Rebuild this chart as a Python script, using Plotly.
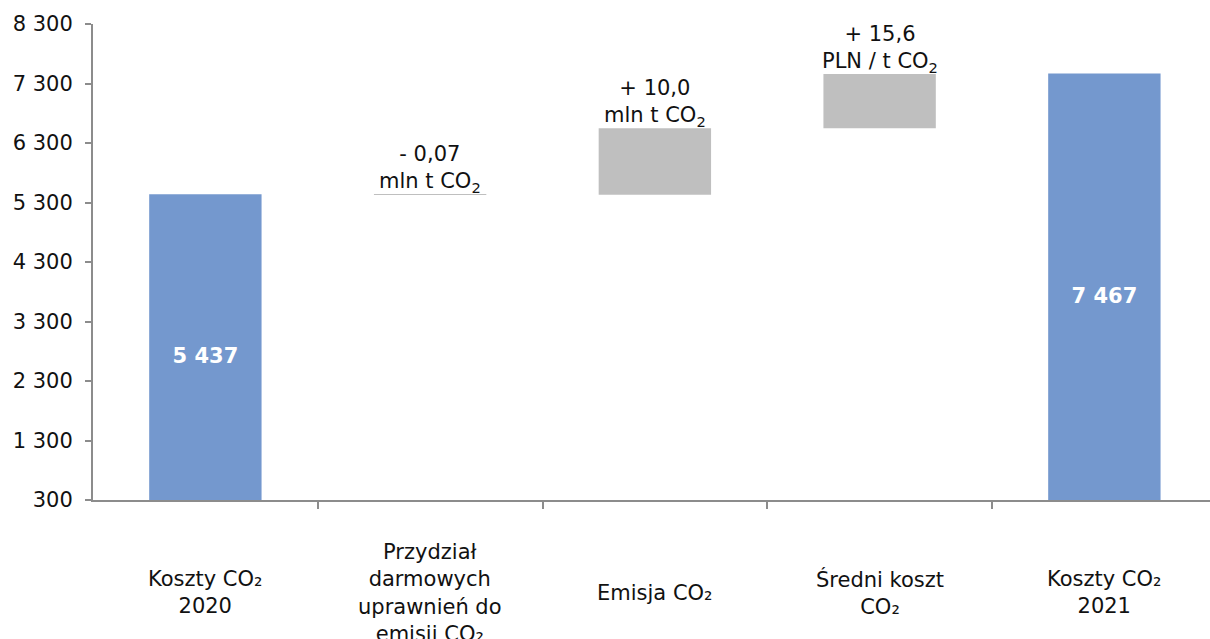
import plotly.graph_objects as go

# Waterfall of CO2 costs 2020 -> 2021
categories = [
    "Koszty CO₂<br>2020",
    "Przydział<br>darmowych<br>uprawnień do<br>emisji CO₂",
    "Emisja CO₂",
    "Średni koszt<br>CO₂",
    "Koszty CO₂<br>2021",
]
start_total = 5437
deltas = [-6, 1115, 915]          # free allocation, emission volume, average price
end_total = 7467
total_labels = ["5 437", "7 467"]
delta_labels = [
    "- 0,07<br>mln t CO<sub>2</sub>",
    "+ 10,0<br>mln t CO<sub>2</sub>",
    "+ 15,6<br>PLN / t CO<sub>2</sub>",
]
y_ticks = [300, 1300, 2300, 3300, 4300, 5300, 6300, 7300, 8300]
y_ticktext = ["300", "1 300", "2 300", "3 300", "4 300", "5 300", "6 300", "7 300", "8 300"]

FONT = "DejaVu Sans, Verdana, sans-serif"
FS = 21
BLUE = "#7498CE"
GREY = "#BFBFBF"
AXIS = "#8C8C8C"
INK = "#111111"

# running levels for the floating bars
levels = [start_total]
for d in deltas:
    levels.append(levels[-1] + d)
delta_bases = [min(levels[i], levels[i + 1]) for i in range(len(deltas))]
delta_heights = [abs(d) for d in deltas]
delta_tops = [max(levels[i], levels[i + 1]) for i in range(len(deltas))]

fig = go.Figure()

fig.add_trace(go.Bar(
    x=[0, 4], y=[start_total, end_total], base=0,
    width=0.5, marker=dict(color=BLUE, line=dict(width=0)),
    text=total_labels, textposition="inside", insidetextanchor="middle",
    textfont=dict(family=FONT, size=FS, color="white", weight="bold"),
    hoverinfo="skip",
))

fig.add_trace(go.Bar(
    x=[1, 2, 3], y=delta_heights, base=delta_bases,
    width=0.5, marker=dict(color=GREY, line=dict(width=0)),
    hoverinfo="skip",
))

annotations = []
for i, (lab, top) in enumerate(zip(delta_labels, delta_tops)):
    annotations.append(dict(
        x=i + 1, y=top, xref="x", yref="y", text=lab, showarrow=False,
        yanchor="bottom", xanchor="center", yshift=-4,
        font=dict(family=FONT, size=FS, color=INK),
    ))
for i, cat in enumerate(categories):
    annotations.append(dict(
        x=i, y=-0.195, xref="x", yref="paper", text=cat, showarrow=False,
        yanchor="middle", xanchor="center", align="center",
        font=dict(family=FONT, size=FS, color=INK),
    ))

fig.update_layout(
    width=1210, height=639,
    margin=dict(l=93, r=0, t=24, b=139),
    paper_bgcolor="white", plot_bgcolor="white",
    showlegend=False, barmode="overlay",
    font=dict(family=FONT, size=FS, color=INK),
    annotations=annotations,
    xaxis=dict(
        range=[-0.5, 4.47], showgrid=False, zeroline=False,
        showline=True, linecolor=AXIS, linewidth=2,
        tickmode="array", tickvals=[0.5, 1.5, 2.5, 3.5], ticktext=["", "", "", ""],
        ticks="outside", ticklen=7, tickwidth=2, tickcolor=AXIS,
    ),
    yaxis=dict(
        range=[300, 8300], showgrid=False, zeroline=False,
        showline=True, linecolor=AXIS, linewidth=2,
        tickmode="array", tickvals=y_ticks, ticktext=y_ticktext,
        ticks="outside", ticklen=6, tickwidth=2, tickcolor=AXIS,
        ticklabelstandoff=8,
        tickfont=dict(family=FONT, size=FS, color=INK),
    ),
)

fig.write_html("out.html")
